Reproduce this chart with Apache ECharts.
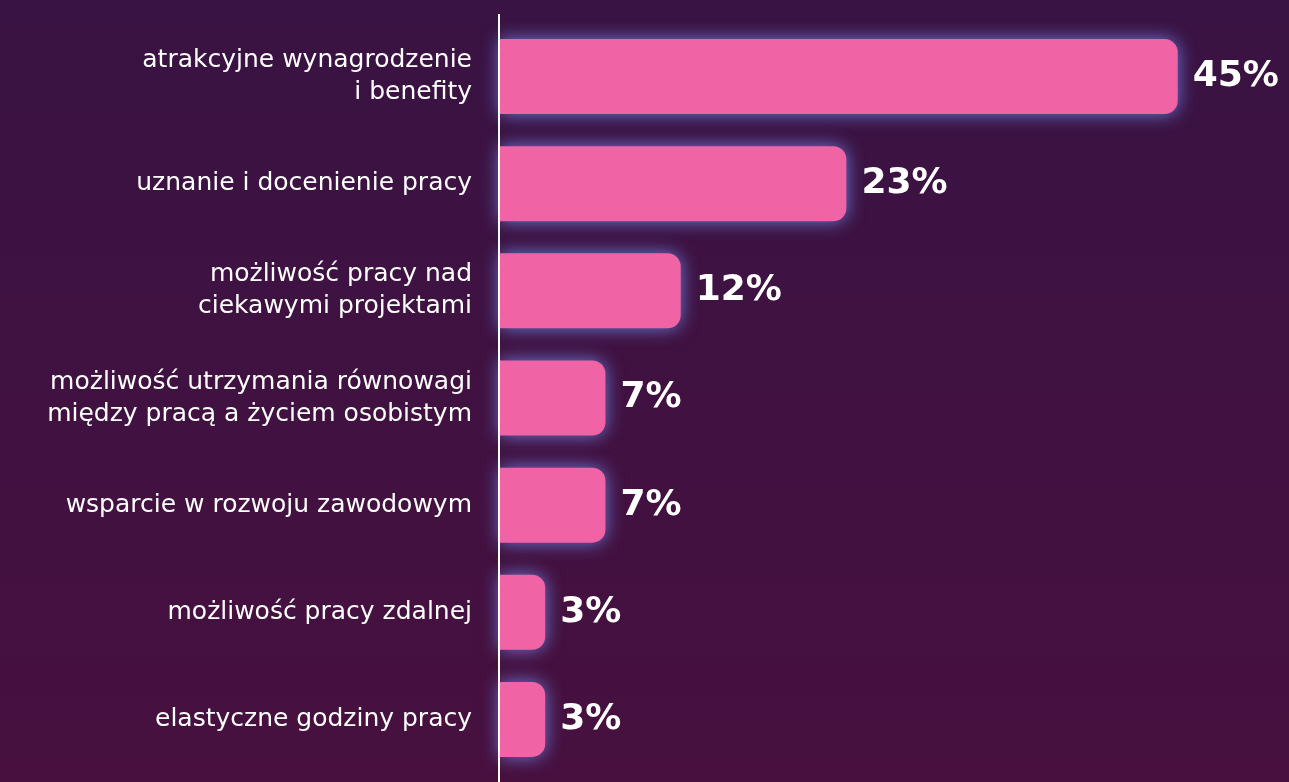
<!DOCTYPE html>
<html>
<head>
<meta charset="utf-8">
<script src="https://cdn.jsdelivr.net/npm/echarts@6/dist/echarts.min.js"></script>
<style>
html,body{margin:0;padding:0;width:1289px;height:782px;overflow:hidden;}
#c{width:1289px;height:782px;}
</style>
</head>
<body>
<div id="c"></div>
<script>
const categories = [
  "atrakcyjne wynagrodzenie\ni benefity",
  "uznanie i docenienie pracy",
  "możliwość pracy nad\nciekawymi projektami",
  "możliwość utrzymania równowagi\nmiędzy pracą a życiem osobistym",
  "wsparcie w rozwoju zawodowym",
  "możliwość pracy zdalnej",
  "elastyczne godziny pracy"
];
const values = [45, 23, 12, 7, 7, 3, 3];

const chart = echarts.init(document.getElementById('c'));
chart.setOption({
  backgroundColor: {
    type: 'linear', x: 0, y: 0, x2: 0, y2: 1,
    colorStops: [{offset: 0, color: '#391343'}, {offset: 1, color: '#47103f'}]
  },
  grid: {left: 500, right: 36, top: 23, bottom: 9},
  xAxis: {
    type: 'value', min: 0, max: 50, show: false
  },
  yAxis: {
    type: 'category', data: categories, inverse: true,
    axisLine: {show: false},
    axisTick: {show: false},
    axisLabel: {
      color: '#ffffff', fontFamily: 'DejaVu Sans', fontSize: 25, lineHeight: 32,
      margin: 28, align: 'right'
    }
  },
  graphic: [{
    type: 'line', z: 10,
    shape: {x1: 499, y1: 14, x2: 499, y2: 782},
    style: {stroke: '#ffffff', lineWidth: 2}
  }],
  series: [{
    type: 'bar', data: values, barWidth: 75,
    itemStyle: {
      color: '#f064a6',
      borderRadius: [0, 13, 13, 0],
      shadowBlur: 18, shadowColor: 'rgba(120,150,255,0.8)'
    },
    label: {
      show: true, position: 'right', distance: 15,
      formatter: '{c}%', color: '#ffffff',
      fontFamily: 'DejaVu Sans', fontWeight: 'bold', fontSize: 36
    },
    animation: false
  }],
  animation: false
});
</script>
</body>
</html>
